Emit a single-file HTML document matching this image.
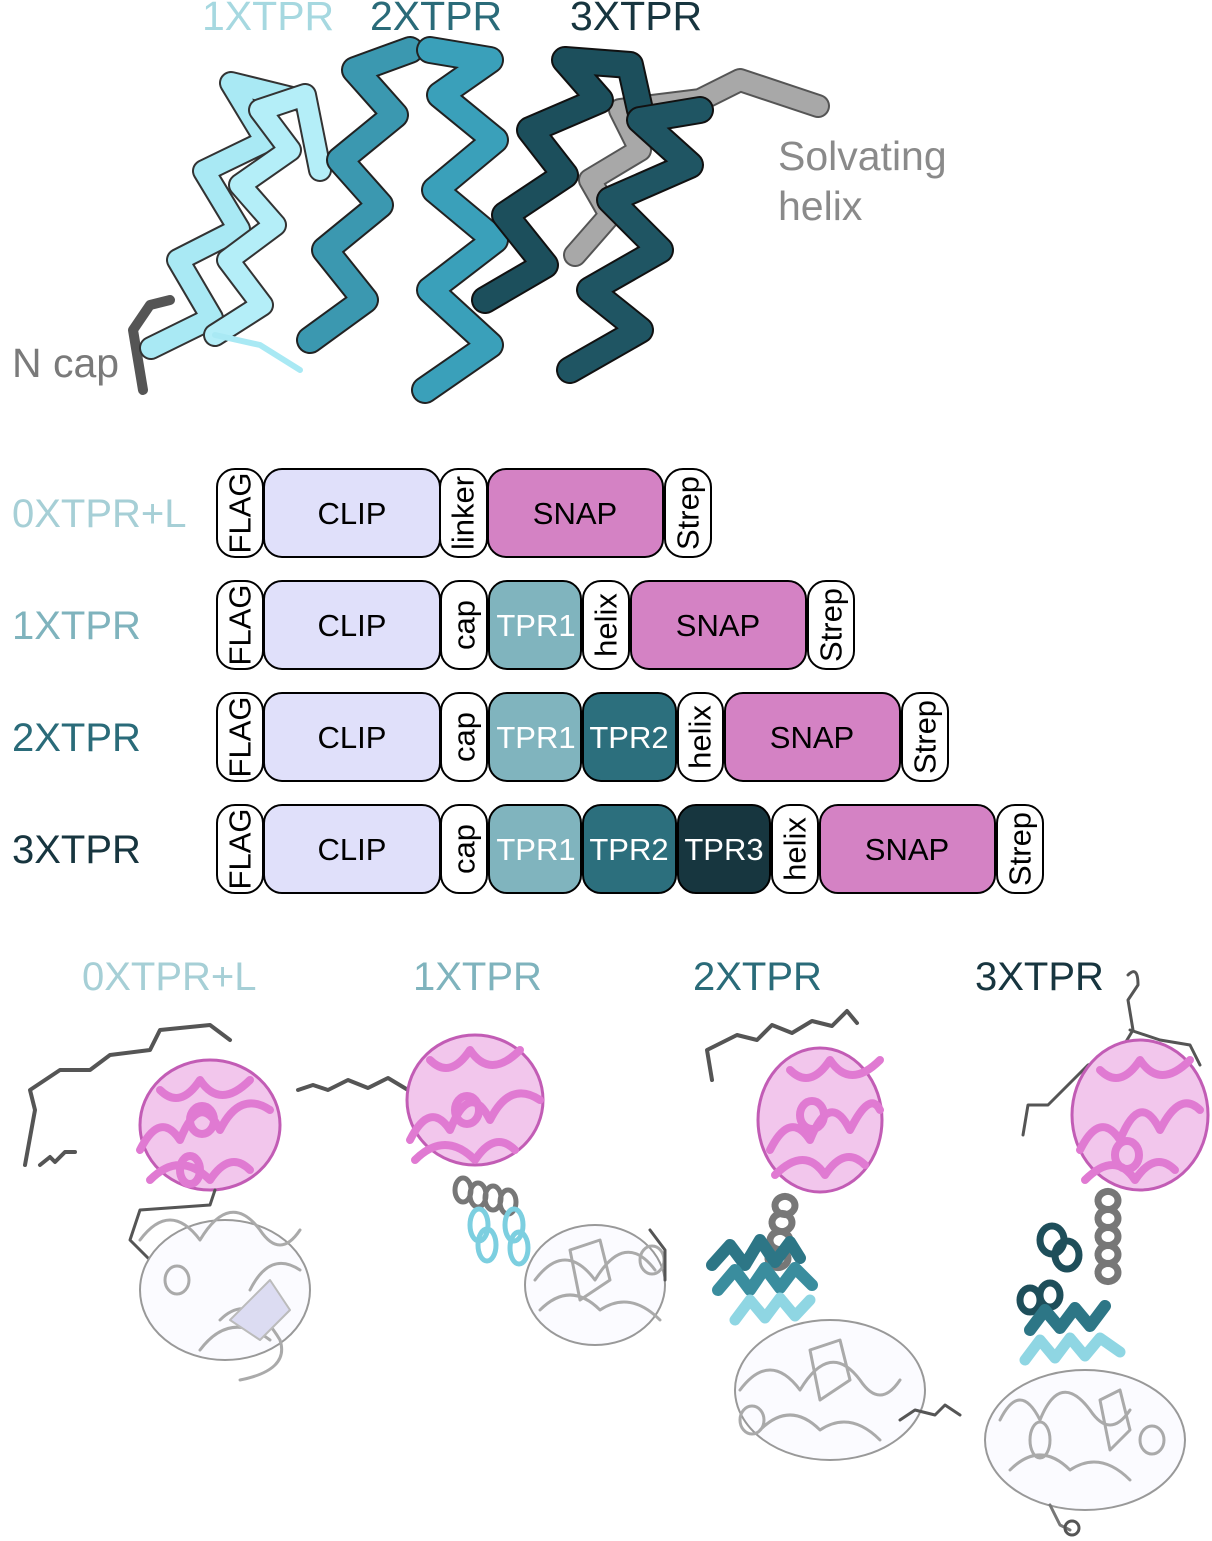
<!DOCTYPE html>
<html><head><meta charset="utf-8"><style>
html,body{margin:0;padding:0;background:#fff;}
svg{display:block;font-family:"Liberation Sans",Arial,sans-serif;}
</style></head><body>
<svg width="1212" height="1541" viewBox="0 0 1212 1541" xmlns="http://www.w3.org/2000/svg">
<g font-size="41">
<text x="202" y="30" fill="#a6d8e0">1XTPR</text>
<text x="370" y="30" fill="#2a6b79">2XTPR</text>
<text x="570" y="30" fill="#17353f">3XTPR</text>
<text x="778" y="170" fill="#8a8a8a">Solvating</text>
<text x="778" y="220" fill="#8a8a8a">helix</text>
<text x="12" y="377" fill="#7a7a7a">N cap</text>
</g>
<g fill="none" stroke-linejoin="round" stroke-linecap="round">
<polyline points="575,255 610,215 590,180 640,150 620,110 700,100 740,80 800,100 818,106" stroke="#555" stroke-width="24"/>
<polyline points="575,255 610,215 590,180 640,150 620,110 700,100 740,80 800,100 818,106" stroke="#a8a8a8" stroke-width="20"/>
<polyline points="143,390 133,330 150,305 170,300" stroke="#555" stroke-width="10"/>
<polyline points="151,348 212,318 178,260 239,229 204,171 266,141 231,83 300,100" stroke="#333" stroke-width="24"/>
<polyline points="151,348 212,318 178,260 239,229 204,171 266,141 231,83 300,100" stroke="#a9e9f4" stroke-width="20"/>
<polyline points="215,335 262,305 228,260 275,225 240,185 290,150 260,110 305,95 320,170" stroke="#333" stroke-width="24"/>
<polyline points="215,335 262,305 228,260 275,225 240,185 290,150 260,110 305,95 320,170" stroke="#b4eef8" stroke-width="20"/>
<polyline points="215,335 260,345 300,370" stroke="#a9e9f4" stroke-width="6"/>
<polyline points="310,340 365,300 325,250 380,205 340,160 395,115 355,70 410,50" stroke="#222" stroke-width="28"/>
<polyline points="310,340 365,300 325,250 380,205 340,160 395,115 355,70 410,50" stroke="#3b98b0" stroke-width="24"/>
<polyline points="425,390 490,345 430,290 495,240 435,190 495,140 440,95 490,60 430,50" stroke="#222" stroke-width="28"/>
<polyline points="425,390 490,345 430,290 495,240 435,190 495,140 440,95 490,60 430,50" stroke="#3aa0ba" stroke-width="24"/>
<polyline points="485,300 545,265 505,215 565,175 530,130 600,100 565,60 630,65 640,110" stroke="#111" stroke-width="28"/>
<polyline points="485,300 545,265 505,215 565,175 530,130 600,100 565,60 630,65 640,110" stroke="#1c4f5c" stroke-width="24"/>
<polyline points="570,370 640,330 590,290 660,250 610,200 690,165 640,120 700,110" stroke="#111" stroke-width="28"/>
<polyline points="570,370 640,330 590,290 660,250 610,200 690,165 640,120 700,110" stroke="#1f5563" stroke-width="24"/>
</g>

<g font-size="40">
<text x="12" y="527" fill="#a6cfd6">0XTPR+L</text>
<text x="12" y="639" fill="#7fb3bd">1XTPR</text>
<text x="12" y="751" fill="#2a6b79">2XTPR</text>
<text x="12" y="863" fill="#17353f">3XTPR</text>
</g>
<g stroke="#000" stroke-width="2" font-size="31">
<rect x="217" y="469" width="46" height="88" rx="18" fill="#fff"/>
<rect x="264" y="469" width="176" height="88" rx="18" fill="#e0e0fa"/>
<rect x="440" y="469" width="47" height="88" rx="18" fill="#fff"/>
<rect x="488" y="469" width="175" height="88" rx="18" fill="#d482c4"/>
<rect x="665" y="469" width="46" height="88" rx="18" fill="#fff"/>
<rect x="217" y="581" width="46" height="88" rx="18" fill="#fff"/>
<rect x="264" y="581" width="176" height="88" rx="18" fill="#e0e0fa"/>
<rect x="441" y="581" width="46" height="88" rx="18" fill="#fff"/>
<rect x="489" y="581" width="92" height="88" rx="18" fill="#80b4be"/>
<rect x="583" y="581" width="46" height="88" rx="18" fill="#fff"/>
<rect x="631" y="581" width="175" height="88" rx="18" fill="#d482c4"/>
<rect x="808" y="581" width="46" height="88" rx="18" fill="#fff"/>
<rect x="217" y="693" width="46" height="88" rx="18" fill="#fff"/>
<rect x="264" y="693" width="176" height="88" rx="18" fill="#e0e0fa"/>
<rect x="441" y="693" width="46" height="88" rx="18" fill="#fff"/>
<rect x="489" y="693" width="92" height="88" rx="18" fill="#80b4be"/>
<rect x="583" y="693" width="93" height="88" rx="18" fill="#2c6f7d"/>
<rect x="678" y="693" width="45" height="88" rx="18" fill="#fff"/>
<rect x="725" y="693" width="175" height="88" rx="18" fill="#d482c4"/>
<rect x="902" y="693" width="46" height="88" rx="18" fill="#fff"/>
<rect x="217" y="805" width="46" height="88" rx="18" fill="#fff"/>
<rect x="264" y="805" width="176" height="88" rx="18" fill="#e0e0fa"/>
<rect x="441" y="805" width="46" height="88" rx="18" fill="#fff"/>
<rect x="489" y="805" width="92" height="88" rx="18" fill="#80b4be"/>
<rect x="583" y="805" width="93" height="88" rx="18" fill="#2c6f7d"/>
<rect x="678" y="805" width="92" height="88" rx="18" fill="#17363f"/>
<rect x="772" y="805" width="46" height="88" rx="18" fill="#fff"/>
<rect x="820" y="805" width="175" height="88" rx="18" fill="#d482c4"/>
<rect x="997" y="805" width="46" height="88" rx="18" fill="#fff"/>
</g>
<g font-size="31" text-anchor="middle" fill="#000">
<text x="352" y="524">CLIP</text><text x="575" y="524">SNAP</text>
<text x="352" y="636">CLIP</text><text x="718" y="636">SNAP</text>
<text x="352" y="748">CLIP</text><text x="812" y="748">SNAP</text>
<text x="352" y="860">CLIP</text><text x="907" y="860">SNAP</text>
<g fill="#fff">
<text x="536" y="636">TPR1</text>
<text x="536" y="748">TPR1</text><text x="629" y="748">TPR2</text>
<text x="536" y="860">TPR1</text><text x="629" y="860">TPR2</text><text x="724" y="860">TPR3</text>
</g>
<g dominant-baseline="central">
<text transform="translate(240,513) rotate(-90)">FLAG</text>
<text transform="translate(463,513) rotate(-90)">linker</text>
<text transform="translate(688,513) rotate(-90)">Strep</text>
<text transform="translate(240,625) rotate(-90)">FLAG</text>
<text transform="translate(464,625) rotate(-90)">cap</text>
<text transform="translate(606,625) rotate(-90)">helix</text>
<text transform="translate(831,625) rotate(-90)">Strep</text>
<text transform="translate(240,737) rotate(-90)">FLAG</text>
<text transform="translate(464,737) rotate(-90)">cap</text>
<text transform="translate(700,737) rotate(-90)">helix</text>
<text transform="translate(925,737) rotate(-90)">Strep</text>
<text transform="translate(240,849) rotate(-90)">FLAG</text>
<text transform="translate(464,849) rotate(-90)">cap</text>
<text transform="translate(795,849) rotate(-90)">helix</text>
<text transform="translate(1020,849) rotate(-90)">Strep</text>
</g>
</g>

<g font-size="40">
<text x="82" y="990" fill="#a6cfd6">0XTPR+L</text>
<text x="413" y="990" fill="#7fb3bd">1XTPR</text>
<text x="693" y="990" fill="#2a6b79">2XTPR</text>
<text x="975" y="990" fill="#17353f">3XTPR</text>
</g>
<g fill="none" stroke-linejoin="round" stroke-linecap="round">
<path d="M25,1165 L35,1110 L30,1090 L60,1070 L90,1070 L110,1055 L150,1050 L160,1030 L210,1025 L230,1040" stroke="#555" stroke-width="4"/>
<path d="M40,1165 l10,-8 l5,5 l10,-10 l10,0" stroke="#555" stroke-width="4"/>
<ellipse cx="210" cy="1125" rx="70" ry="65" fill="#f2c6ec" stroke="#c25cb5" stroke-width="3"/>
<path d="M140,1150 q20,-40 40,-10 q20,-50 40,-10 q20,-40 50,-20 M150,1180 q30,-30 60,0 q20,-30 40,-10 M160,1090 q20,20 40,-10 q20,30 50,0 M190,1120 a12,14 0 1,1 24,0 a12,14 0 1,1 -24,0 M180,1170 a10,14 0 1,1 20,0 a10,14 0 1,1 -20,0" stroke="#e07ad2" stroke-width="8"/>
<path d="M215,1190 L210,1205 L140,1210 L130,1240 L150,1260" stroke="#555" stroke-width="3"/>
<ellipse cx="225" cy="1290" rx="85" ry="70" fill="#fbfbff" stroke="#999" stroke-width="2"/>
<path d="M140,1240 q30,-40 60,0 q30,-50 60,-10 q20,30 40,0 M165,1280 a12,14 0 1,1 24,0 a12,14 0 1,1 -24,0 M220,1320 q30,-30 60,20 q10,30 -40,40 M200,1350 q30,-40 70,-10 M250,1290 q20,-40 50,-20" stroke="#aaa" stroke-width="3"/>
<path d="M230,1320 l40,-40 l20,30 l-30,30z" fill="#dcdcf2" stroke="#bbb" stroke-width="2"/>
<path d="M298,1090 l15,-5 l15,5 l20,-10 l20,8 l20,-10 l20,12 l20,15 l20,10" stroke="#555" stroke-width="4"/>
<ellipse cx="475" cy="1100" rx="68" ry="65" fill="#f2c6ec" stroke="#c25cb5" stroke-width="3"/>
<path d="M410,1140 q20,-40 40,-10 q20,-50 40,-10 q20,-40 50,-20 M415,1160 q30,-30 60,0 q20,-30 40,-10 M430,1060 q20,20 40,-10 q20,30 50,0 M455,1110 a12,14 0 1,1 24,0 a12,14 0 1,1 -24,0" stroke="#e07ad2" stroke-width="8"/>
<path d="M455,1190 a8,12 0 1,1 16,0 a8,12 0 1,1 -16,0 M470,1195 a8,12 0 1,1 16,0 a8,12 0 1,1 -16,0 M485,1198 a8,12 0 1,1 16,0 a8,12 0 1,1 -16,0 M500,1202 a8,12 0 1,1 16,0 a8,12 0 1,1 -16,0" stroke="#777" stroke-width="5"/>
<path d="M470,1225 a9,16 0 1,1 18,0 a9,16 0 1,1 -18,0 M478,1245 a9,16 0 1,1 18,0 a9,16 0 1,1 -18,0 M505,1225 a9,16 0 1,1 18,0 a9,16 0 1,1 -18,0 M510,1248 a9,16 0 1,1 18,0 a9,16 0 1,1 -18,0" stroke="#7ccfe0" stroke-width="5"/>
<ellipse cx="595" cy="1285" rx="70" ry="60" fill="#fbfbff" stroke="#999" stroke-width="2"/>
<path d="M535,1280 q30,-40 60,0 q30,-50 60,-10 M540,1310 q30,-30 60,0 q30,-20 60,10 M570,1250 l30,-10 l10,40 l-30,20z M640,1260 a12,14 0 1,1 24,0 a12,14 0 1,1 -24,0" stroke="#aaa" stroke-width="3"/>
<path d="M650,1230 l15,20 l0,30" stroke="#555" stroke-width="3"/>
<path d="M712,1080 l-5,-30 l30,-15 l20,5 l15,-15 l20,8 l20,-12 l20,5 l15,-15 l10,12" stroke="#555" stroke-width="4"/>
<ellipse cx="820" cy="1120" rx="62" ry="72" fill="#f2c6ec" stroke="#c25cb5" stroke-width="3"/>
<path d="M770,1150 q20,-40 40,-10 q20,-50 40,-10 q20,-40 30,-20 M775,1175 q30,-30 50,0 q20,-30 40,-10 M790,1070 q20,20 40,-10 q20,30 50,0 M800,1115 a12,14 0 1,1 24,0 a12,14 0 1,1 -24,0" stroke="#e07ad2" stroke-width="8"/>
<path d="M775,1205 a10,9 0 1,1 0,1 M772,1222 a10,9 0 1,1 0,1 M770,1240 a10,9 0 1,1 0,1 M768,1258 a10,9 0 1,1 0,1" stroke="#777" stroke-width="7"/>
<polyline points="712,1265 730,1245 745,1265 760,1240 775,1262 790,1242 800,1258" stroke="#2d7686" stroke-width="12"/>
<polyline points="718,1290 735,1270 750,1290 765,1268 780,1288 795,1268 812,1285" stroke="#3a8d9e" stroke-width="12"/>
<polyline points="735,1320 750,1300 765,1318 780,1298 795,1316 810,1300" stroke="#8fd6e3" stroke-width="11"/>
<ellipse cx="830" cy="1390" rx="95" ry="70" fill="#fbfbff" stroke="#999" stroke-width="2"/>
<path d="M740,1390 q30,-40 60,0 q30,-50 60,-10 q20,30 40,0 M760,1430 q30,-30 60,0 q30,-20 60,10 M810,1350 l30,-10 l10,40 l-30,20z M740,1420 a12,14 0 1,1 24,0 a12,14 0 1,1 -24,0" stroke="#aaa" stroke-width="3"/>
<path d="M900,1420 l15,-10 l20,5 l10,-10 l15,10" stroke="#555" stroke-width="3"/>
<path d="M1128,975 q10,-10 10,10 l-10,15 l5,30 l-15,25 l-30,10 l-20,20 l-20,20 l-20,0 l-5,30 M1130,1030 l30,10 l30,5 l10,20" stroke="#555" stroke-width="3"/>
<ellipse cx="1140" cy="1115" rx="68" ry="75" fill="#f2c6ec" stroke="#c25cb5" stroke-width="3"/>
<path d="M1080,1150 q20,-40 40,-10 q20,-50 40,-10 q20,-40 40,-20 M1085,1180 q30,-30 50,0 q20,-30 40,-10 M1100,1070 q20,20 40,-10 q20,30 50,0 M1115,1155 a12,14 0 1,1 24,0 a12,14 0 1,1 -24,0" stroke="#e07ad2" stroke-width="8"/>
<path d="M1098,1200 a10,9 0 1,1 0,1 M1098,1218 a10,9 0 1,1 0,1 M1098,1236 a10,9 0 1,1 0,1 M1098,1254 a10,9 0 1,1 0,1 M1098,1272 a10,9 0 1,1 0,1" stroke="#777" stroke-width="7"/>
<path d="M1040,1240 a12,14 0 1,1 24,0 a12,14 0 1,1 -24,0 M1055,1255 a12,14 0 1,1 24,0 a12,14 0 1,1 -24,0 M1020,1300 a10,12 0 1,1 20,0 a10,12 0 1,1 -20,0 M1040,1295 a10,12 0 1,1 20,0 a10,12 0 1,1 -20,0" stroke="#1e4e5a" stroke-width="7"/>
<polyline points="1030,1330 1045,1310 1060,1328 1075,1308 1090,1326 1105,1306" stroke="#2d7686" stroke-width="12"/>
<polyline points="1025,1360 1040,1340 1055,1358 1070,1338 1085,1356 1100,1338 1120,1352" stroke="#8fd6e3" stroke-width="11"/>
<ellipse cx="1085" cy="1440" rx="100" ry="70" fill="#fbfbff" stroke="#999" stroke-width="2"/>
<path d="M1000,1420 q20,-40 40,0 q20,-50 50,-10 q20,30 40,0 M1010,1470 q30,-30 60,0 q30,-20 60,10 M1100,1400 l20,-10 l10,40 l-20,20z M1140,1440 a12,14 0 1,1 24,0 a12,14 0 1,1 -24,0 M1030,1440 a10,18 0 1,1 20,0 a10,18 0 1,1 -20,0" stroke="#aaa" stroke-width="3"/>
<path d="M1050,1505 l10,20 l10,5" stroke="#777" stroke-width="3"/>
<circle cx="1072" cy="1528" r="7" stroke="#555" stroke-width="3"/>
</g>
</svg>
</body></html>
